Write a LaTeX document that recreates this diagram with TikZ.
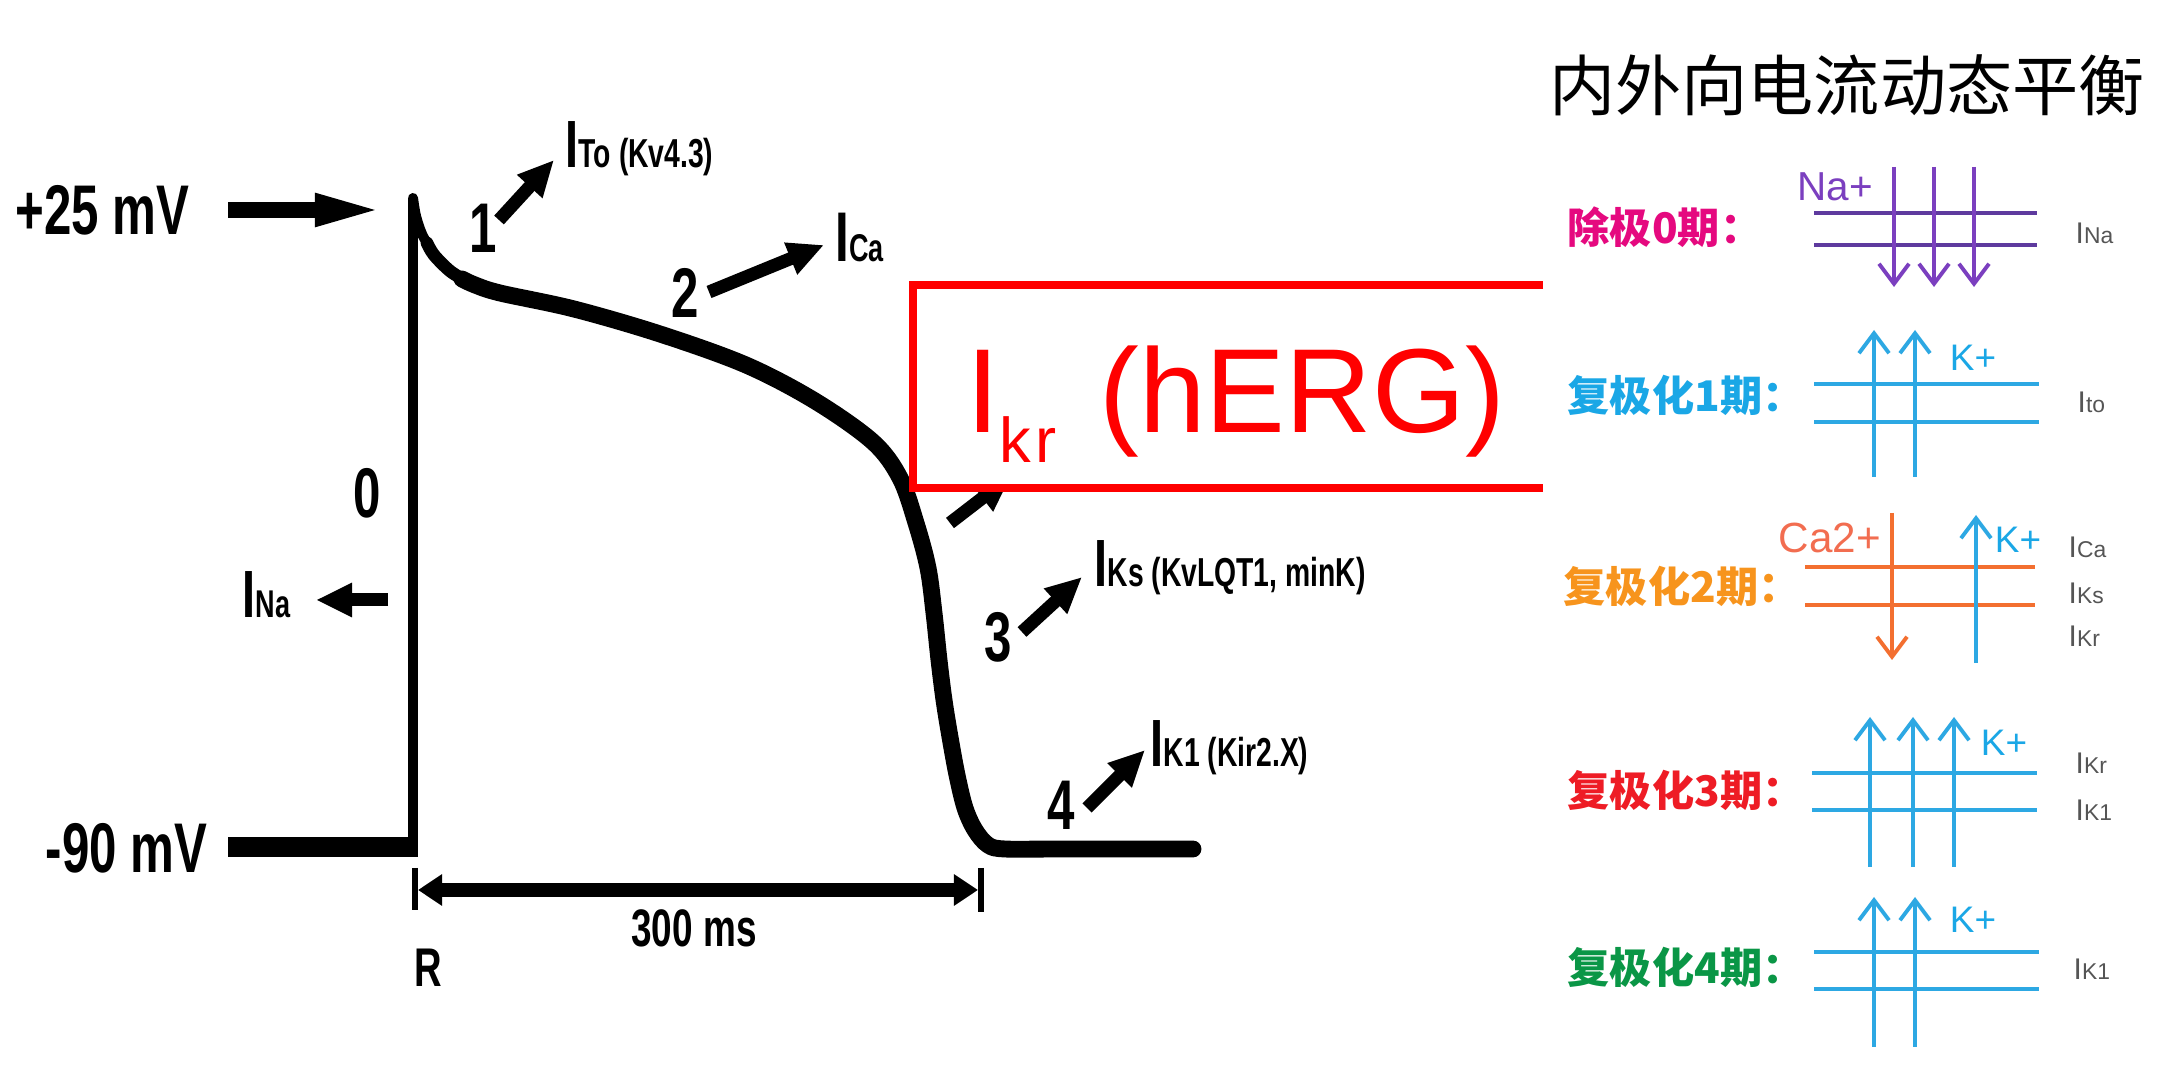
\documentclass[tikz,border=0pt]{standalone}
\usepackage{fontspec}
\setmainfont{Liberation Sans}
\newfontfamily\cond[FakeStretch=0.7]{Liberation Sans}
\newfontfamily\cjk{Noto Sans CJK SC}
\usetikzlibrary{arrows.meta}
\newcommand{\fsz}[1]{\fontsize{#1}{#1}\selectfont}
\definecolor{magentaL}{HTML}{E5097F}
\definecolor{cyanL}{HTML}{1AA7E6}
\definecolor{orangeL}{HTML}{F7941D}
\definecolor{redL}{HTML}{EE1C25}
\definecolor{greenL}{HTML}{0A9646}
\definecolor{purpleL}{HTML}{7B3FBF}
\definecolor{purpleLine}{HTML}{5E3A9E}
\definecolor{orangeLine}{HTML}{F36F30}
\definecolor{caText}{HTML}{F26D50}
\definecolor{grayL}{HTML}{555555}
\definecolor{blueLine}{HTML}{2DA8E3}
\definecolor{boxred}{HTML}{FF0000}
\begin{document}
\begin{tikzpicture}[x=0.01cm, y=-0.01cm,
  lbl/.style={inner sep=0pt, font=\cond\bfseries\fsz{20}},
  cur/.style={inner sep=0pt, font=\cond\bfseries\fsz{19}},
  fat/.style={line width=3.7pt, -{Triangle[length=0.36cm,width=0.32cm]}},
  rowlbl/.style={inner sep=0pt, font=\cjk\bfseries\fsz{12}},
  ionlbl/.style={inner sep=0pt, font=\fsz{10.5}},
  curg/.style={inner sep=0pt, text=grayL, font=\fsz{8.5}},
  mem/.style={line width=1pt},
  ion/.style={line width=1.1pt, -{Straight Barb[length=0.2cm,width=0.3cm]}}]
\useasboundingbox (0,0) rectangle (2160,1080);
\fill[white] (0,0) rectangle (2160,1080);

% ---------- action potential ----------
\coordinate (peak) at (413,198);
\coordinate (rest) at (413,857);
\draw[line width=5.7pt] (228,847) -- (418,847);
\draw[line width=2.85pt] (rest) -- (peak);
\draw[line width=2.85pt, line cap=round] plot[smooth, tension=0.55] coordinates {(413,198) (416,216) (422,234) (430,248)};
\draw[line width=3.6pt, line cap=round] plot[smooth, tension=0.55] coordinates {(427,243) (434,255) (450,271) (466,281)};
\draw[line width=4.8pt, line cap=round] plot[smooth, tension=0.55] coordinates {(462,279) (475,285) (500,293) (574,309) (660,334) (746,365) (815,401) (873,442) (900,478) (916,523) (928,568) (934,613) (939,660) (944,700) (950,737) (957,775) (965,808) (975,830) (988,845) (1005,849) (1060,849) (1193,849)};

% voltage labels
\node[lbl, anchor=base east] (p25) at (190,235) {+25 mV};
\coordinate (p25s) at (228,210);
\coordinate (p25e) at (385,210);
\draw[line width=4.3pt, -{Triangle[length=0.7cm,width=0.29cm]}] (p25s) -- (p25e);
\node[lbl, anchor=base east] (m90) at (208,873) {-90 mV};

% phase 0
\node[lbl, anchor=base west] (ph0) at (353,518) {0};
\node[cur, anchor=base west] (ina) at (242,618) {I\fsz{11}Na};
\coordinate (inaS) at (388,600);
\coordinate (inaE) at (316,600);
\draw[fat] (inaS) -- (inaE);

% phase 1
\node[lbl, anchor=base west] (ph1) at (469,253) {1};
\node[cur, anchor=base west] (ito) at (565,168) {I\fsz{11.5}To (Kv4.3)};
\coordinate (a1s) at (499,220);
\coordinate (a1e) at (554,160);
\draw[fat] (a1s) -- (a1e);

% phase 2
\node[lbl, anchor=base west] (ph2) at (671,318) {2};
\node[cur, font=\cond\bfseries\fsz{20}, anchor=base west] (ica) at (835,262) {I\fsz{11}Ca};
\coordinate (a2s) at (709,292);
\coordinate (a2e) at (824,245);
\draw[fat] (a2s) -- (a2e);

% hidden phase-3 arrow (under box)
\coordinate (a3hs) at (950,523);
\coordinate (a3he) at (1011,476);
\draw[fat] (a3hs) -- (a3he);

% red box
\fill[white] (913,285) rectangle (1543,488);
\draw[boxred, line width=2pt] (1543,285) -- (913,285) -- (913,488) -- (1543,488);
\node[anchor=base west, inner sep=0pt, text=boxred, font=\fsz{34}] (herg) at (966,433) {I\raisebox{-0.29cm}{\fsz{18}k\kern0.04cm r}\hspace{0.43cm}(hERG)};

% phase 3
\node[lbl, anchor=base west] (ph3) at (984,662) {3};
\node[cur, anchor=base west] (iks) at (1094,587) {I\fsz{11.5}Ks (KvLQT1, minK)};
\coordinate (a3s) at (1022,632);
\coordinate (a3e) at (1082,577);
\draw[fat] (a3s) -- (a3e);

% phase 4
\node[lbl, anchor=base west] (ph4) at (1047,830) {4};
\node[cur, anchor=base west] (ik1) at (1150,767) {I\fsz{11.5}K1 (Kir2.X)};
\coordinate (a4s) at (1087,808);
\coordinate (a4e) at (1145,750);
\draw[fat] (a4s) -- (a4e);

% time scale
\draw[line width=1.7pt] (415,868) -- (415,910);
\draw[line width=1.7pt] (981,868) -- (981,912);
\coordinate (dimL) at (418,890);
\coordinate (dimR) at (978,890);
\draw[line width=3.7pt, {Triangle[length=0.24cm,width=0.3cm]}-{Triangle[length=0.24cm,width=0.3cm]}] (dimL) -- (dimR);
\node[lbl, font=\cond\bfseries\fsz{15}, anchor=base] (ms) at (694,947) {300 ms};
\node[lbl, font=\cond\bfseries\fsz{15.5}, anchor=base west] (R) at (414,987) {R};

% ---------- right panel ----------
\node[inner sep=0pt, font=\cjk\fsz{18.8}] (title) at (1847,85) {内外向电流动态平衡};

% row 0
\node[rowlbl, text=magentaL, anchor=west] (l0) at (1567,227) {除极0期：};
\draw[mem, purpleLine] (1814,213) -- (2037,213);
\draw[mem, purpleLine] (1814,245) -- (2037,245);
\foreach \x in {1894,1934,1974} \draw[ion, purpleL] (\x,167) -- (\x,287);
\node[ionlbl, text=purpleL, font=\fsz{11.5}] (na) at (1835,187) {Na+};
\node[curg, anchor=west] (c0) at (2075,233) {I\fsz{6.5}Na};

% row 1
\node[rowlbl, text=cyanL, anchor=west] (l1) at (1567,395) {复极化1期：};
\draw[mem, blueLine] (1814,384) -- (2039,384);
\draw[mem, blueLine] (1814,422) -- (2039,422);
\foreach \x in {1874,1915} \draw[ion, blueLine] (\x,477) -- (\x,330);
\node[ionlbl, text=cyanL] (k1) at (1973,358) {K+};
\node[curg, anchor=west] (c1) at (2077,402) {I\fsz{6.5}to};

% row 2
\node[rowlbl, text=orangeL, anchor=west] (l2) at (1563,586) {复极化2期：};
\draw[mem, orangeLine] (1805,567) -- (2035,567);
\draw[mem, orangeLine] (1805,605) -- (2035,605);
\node[ionlbl, text=caText, font=\fsz{12}] (ca) at (1830,538) {Ca2+};
\draw[ion, orangeLine] (1892,513) -- (1892,660);
\draw[ion, blueLine] (1976,663) -- (1976,515);
\node[ionlbl, text=cyanL] (k2) at (2018,540) {K+};
\node[curg, anchor=west] (c2a) at (2068,547) {I\fsz{6.5}Ca};
\node[curg, anchor=west] (c2b) at (2068,593) {I\fsz{6.5}Ks};
\node[curg, anchor=west] (c2c) at (2068,636) {I\fsz{6.5}Kr};

% row 3
\node[rowlbl, text=redL, anchor=west] (l3) at (1567,790) {复极化3期：};
\draw[mem, blueLine] (1812,773) -- (2037,773);
\draw[mem, blueLine] (1812,810) -- (2037,810);
\foreach \x in {1870,1913,1954} \draw[ion, blueLine] (\x,867) -- (\x,717);
\node[ionlbl, text=cyanL] (k3) at (2004,743) {K+};
\node[curg, anchor=west] (c3a) at (2075,763) {I\fsz{6.5}Kr};
\node[curg, anchor=west] (c3b) at (2075,810) {I\fsz{6.5}K1};

% row 4
\node[rowlbl, text=greenL, anchor=west] (l4) at (1567,967) {复极化4期：};
\draw[mem, blueLine] (1814,952) -- (2039,952);
\draw[mem, blueLine] (1814,989) -- (2039,989);
\foreach \x in {1874,1915} \draw[ion, blueLine] (\x,1047) -- (\x,897);
\node[ionlbl, text=cyanL] (k4) at (1973,920) {K+};
\node[curg, anchor=west] (c4) at (2073,969) {I\fsz{6.5}K1};
\end{tikzpicture}
\end{document}
